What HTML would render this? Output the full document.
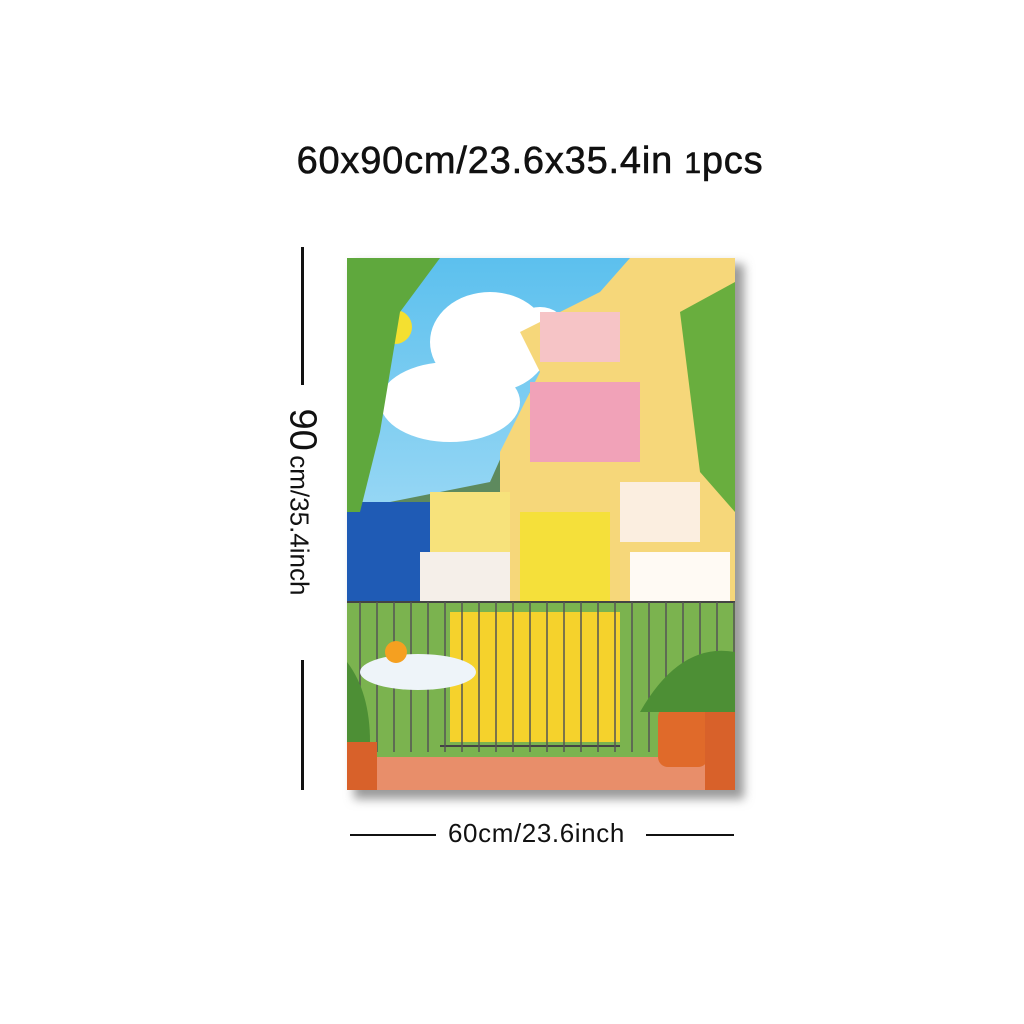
<!DOCTYPE html>
<html><head><meta charset="utf-8"><style>
body{margin:0;width:1024px;height:1024px;background:#fff;position:relative;overflow:hidden;font-family:"Liberation Sans",sans-serif}
.t{position:absolute;left:0;width:1060px;top:140px;text-align:center;font-size:38px;color:#111;letter-spacing:0.8px;-webkit-text-stroke:0.6px #111}
.l{position:absolute;background:#111}
</style></head><body>
<div class="t">60x90cm/23.6x35.4in <span style="font-size:30px">1</span>pcs</div>
<div class="l" style="left:301px;top:247px;width:3px;height:138px"></div>
<div class="l" style="left:301px;top:660px;width:3px;height:130px"></div>
<div style="position:absolute;left:302px;top:502px;transform:translate(-50%,-50%) rotate(90deg);white-space:nowrap;color:#111"><span style="font-size:38px">90</span> <span style="font-size:26px">cm/35.4inch</span></div>
<div class="l" style="left:350px;top:834px;width:86px;height:2px"></div>
<div class="l" style="left:646px;top:834px;width:88px;height:2px"></div>
<div style="position:absolute;left:448px;top:818px;font-size:26px;letter-spacing:0.6px;color:#111">60cm/23.6inch</div>
<svg style="position:absolute;left:340px;top:252px" width="420" height="560">
<defs><filter id="s"><feGaussianBlur stdDeviation="5"/></filter>
<linearGradient id="sky" x1="0" y1="0" x2="0" y2="1"><stop offset="0" stop-color="#5cc0ee"/><stop offset="1" stop-color="#d8f0fb"/></linearGradient></defs>
<rect x="14" y="12" width="390" height="535" fill="#999" filter="url(#s)"/>
<rect x="7" y="6" width="388" height="532" fill="url(#sky)"/>
<ellipse cx="150" cy="90" rx="60" ry="50" fill="#fff"/><ellipse cx="110" cy="150" rx="70" ry="40" fill="#fff"/><ellipse cx="200" cy="75" rx="25" ry="20" fill="#fff"/>
<polygon points="50,250 150,230 190,140 200,250" fill="#5e8a5e"/>
<rect x="7" y="250" width="120" height="100" fill="#1f5bb5"/>
<polygon points="180,80 260,40 290,6 395,6 395,350 160,350 160,200 200,120" fill="#f6d77a"/>
<rect x="190" y="130" width="110" height="80" fill="#f1a2b8"/>
<rect x="200" y="60" width="80" height="50" fill="#f6c4c6"/>
<rect x="180" y="260" width="90" height="90" fill="#f5e03a"/>
<rect x="280" y="230" width="80" height="60" fill="#fbeee0"/>
<rect x="290" y="300" width="100" height="60" fill="#fffaf4"/>
<rect x="90" y="240" width="80" height="110" fill="#f7e27b"/>
<rect x="80" y="300" width="90" height="50" fill="#f5efe9"/>
<rect x="7" y="350" width="388" height="160" fill="#7bb34f"/>
<rect x="110" y="360" width="170" height="130" fill="#f5d22c"/>
<g stroke="#444" stroke-width="2"><line x1="7" y1="350" x2="395" y2="350"/><line x1="100" y1="494" x2="280" y2="494"/></g>
<g stroke="#555" stroke-width="1.5" id="rail"></g>
<rect x="7" y="505" width="388" height="33" fill="#e88e6a"/>
<ellipse cx="78" cy="420" rx="58" ry="18" fill="#eef4f9"/>
<circle cx="56" cy="400" r="11" fill="#f5a020"/>
<circle cx="55" cy="75" r="17" fill="#f4e030"/><circle cx="383" cy="58" r="12" fill="#f4e030"/>
<path d="M7,6 L100,6 L60,60 L40,180 L20,260 L7,260Z" fill="#5fa83d"/>
<path d="M340,60 L395,30 L395,260 L360,220Z" fill="#69ae3e"/>
<rect x="318" y="455" width="50" height="60" rx="10" fill="#e06a2a"/><rect x="365" y="460" width="30" height="78" fill="#d8612a"/>
<path d="M300,460 Q340,390 395,400 L395,460Z" fill="#4d8f35"/>
<rect x="7" y="490" width="30" height="48" fill="#d8612a"/>
<path d="M7,410 Q30,440 30,490 L7,490Z" fill="#4d8f35"/>
</svg>
<script>
const g=document.getElementById('rail');
for(let x=20;x<395;x+=17){const l=document.createElementNS('http://www.w3.org/2000/svg','line');


l.setAttribute('x1',x);l.setAttribute('x2',x);l.setAttribute('y1',350);l.setAttribute('y2',500);g.appendChild(l);}
</script>
</body></html>
